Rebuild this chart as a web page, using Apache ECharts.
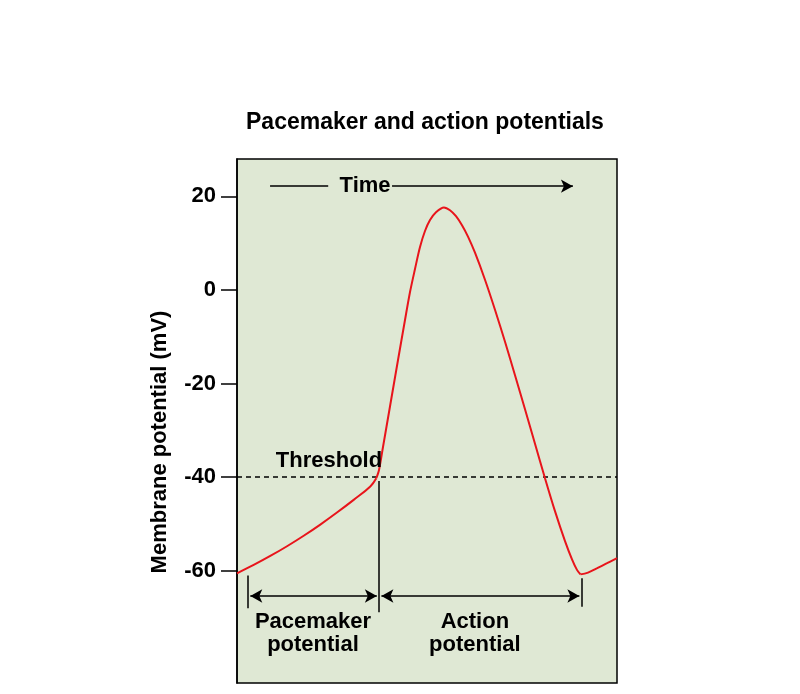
<!DOCTYPE html>
<html>
<head>
<meta charset="utf-8">
<script src="https://cdn.jsdelivr.net/npm/echarts@6/dist/echarts.min.js"></script>
<style>
html,body{margin:0;padding:0;background:#fff;}
#chart{width:800px;height:694px;}
</style>
</head>
<body>
<div id="chart"></div>
<script>
// ---- data (time in arbitrary units 0..100, potential in mV) ----
var pacemakerTime = [0, 4.39, 8.76, 13.16, 17.55, 21.92, 26.3, 30.7, 35.08, 36.66];
var pacemakerMv   = [-60.55, -58.77, -56.85, -54.77, -52.53, -50.14, -47.57, -44.86, -41.99, -40.24];

var actionTime = [36.66, 37.37, 38.42, 40.26, 42.37, 44.21, 45.53, 46.84, 48.16, 49.47, 50.79, 52.37, 54.47, 56.05, 57.63, 59.21, 60.79, 62.63, 65.26, 67.89, 70.53, 73.16, 75.79, 78.42, 81.05, 83.68, 86.32, 88.16, 89.47, 90.39];
var actionMv   = [-40.24, -38.47, -33.55, -24.9, -14.96, -6.41, -0.43, 4.49, 9.19, 12.61, 14.96, 16.63, 17.66, 17.06, 15.78, 13.85, 11.42, 7.97, 2.2, -4.21, -11.05, -18.21, -25.47, -32.85, -40.22, -47.27, -53.68, -57.57, -59.82, -60.78];

var recoveryTime = [90.39, 92.37, 94.66, 97.37, 100];
var recoveryMv   = [-60.78, -60.4, -59.5, -58.4, -57.3];

var yTicks = [-60, -40, -20, 0, 20];
var thresholdMv = -40;
var titleText = 'Pacemaker and action potentials';
var yName = 'Membrane potential (mV)';

function pairs(xs, ys){ return xs.map(function(x,i){ return [x, ys[i]]; }); }

var FONT = '"Liberation Sans", Arial, Helvetica, sans-serif';
var FS = 22;
var RED = '#e8141b';

var chart = echarts.init(document.getElementById('chart'), null, {renderer:'canvas'});

var curveStyle = {color: RED, width: 2};

var option = {
  animation: false,
  backgroundColor: '#ffffff',
  title: {
    text: titleText,
    left: 241, top: 106,
    textStyle: {fontFamily: FONT, fontWeight: 'bold', fontSize: 23, color: '#000'}
  },
  grid: {
    left: 237, right: 183, top: 159, bottom: 11,
    show: true, backgroundColor: '#dfe8d4', borderColor: '#000', borderWidth: 1.5
  },
  xAxis: {
    type: 'value', min: 0, max: 100, show: false
  },
  yAxis: {
    type: 'value', min: -84, max: 28,
    name: yName, nameLocation: 'middle', nameGap: 66,
    nameTextStyle: {fontFamily: FONT, fontWeight: 'bold', fontSize: FS, color: '#000', padding: [0, 42, 0, 0]},
    axisLine: {show: true, lineStyle: {color: '#000', width: 1.5}},
    axisTick: {show: true, inside: false, length: 16, customValues: yTicks, lineStyle: {color: '#000', width: 1.5}},
    axisLabel: {show: true, customValues: yTicks, margin: 21, fontFamily: FONT, fontWeight: 'bold', fontSize: FS, color: '#000'},
    splitLine: {show: false}
  },
  series: [
    {type: 'line', data: pairs(pacemakerTime, pacemakerMv), smooth: 0.4, showSymbol: false, lineStyle: curveStyle, z: 5,
     markLine: {
       silent: true, symbol: 'none', label: {show: false},
       lineStyle: {color: '#000', type: [5, 4], width: 1.5},
       data: [{yAxis: thresholdMv}]
     }},
    {type: 'line', data: pairs(actionTime, actionMv), smooth: 0.3, showSymbol: false, lineStyle: curveStyle, z: 5},
    {type: 'line', data: pairs(recoveryTime, recoveryMv), smooth: 0.4, showSymbol: false, lineStyle: curveStyle, z: 5},
    {type: 'line', data: [],
     markLine: {
       silent: true, symbol: 'none', symbolSize: [10, 12], label: {show: false},
       lineStyle: {color: '#000', type: 'solid', width: 1.5},
       emphasis: {disabled: true},
       data: [
         // time arrow
         [{coord: [8.7, 22.2]}, {coord: [24.0, 22.2]}],
         [{coord: [40.8, 22.2]}, {coord: [88.4, 22.2], symbol: 'arrow'}],
         // vertical markers
         [{coord: [2.9, -61.0]}, {coord: [2.9, -68.0]}],
         [{coord: [37.4, -40.8]}, {coord: [37.4, -68.9]}],
         [{coord: [90.7, -61.6]}, {coord: [90.7, -67.7]}],
         // double arrows
         [{coord: [3.5, -65.4], symbol: 'arrow'}, {coord: [36.8, -65.4], symbol: 'arrow'}],
         [{coord: [38.0, -65.4], symbol: 'arrow'}, {coord: [90.1, -65.4], symbol: 'arrow'}]
       ]
     }}
  ]
};
chart.setOption(option);

// text annotations positioned through the chart's own scales
var labels = [
  {text: 'Time', at: [33.7, 22.2]},
  {text: 'Threshold', at: [24.2, -36.6]},
  {text: 'Pacemaker\npotential', at: [20.0, -73.4]},
  {text: 'Action\npotential', at: [62.6, -73.4]}
];
var gfx = labels.map(function(l){
  var p = chart.convertToPixel({gridIndex: 0}, l.at);
  return {
    type: 'text', x: p[0], y: p[1], z: 10,
    style: {text: l.text, fill: '#000', font: 'bold ' + FS + 'px ' + FONT, align: 'center', verticalAlign: 'middle', lineHeight: 23}
  };
});
chart.setOption({graphic: gfx});
</script>
</body>
</html>
